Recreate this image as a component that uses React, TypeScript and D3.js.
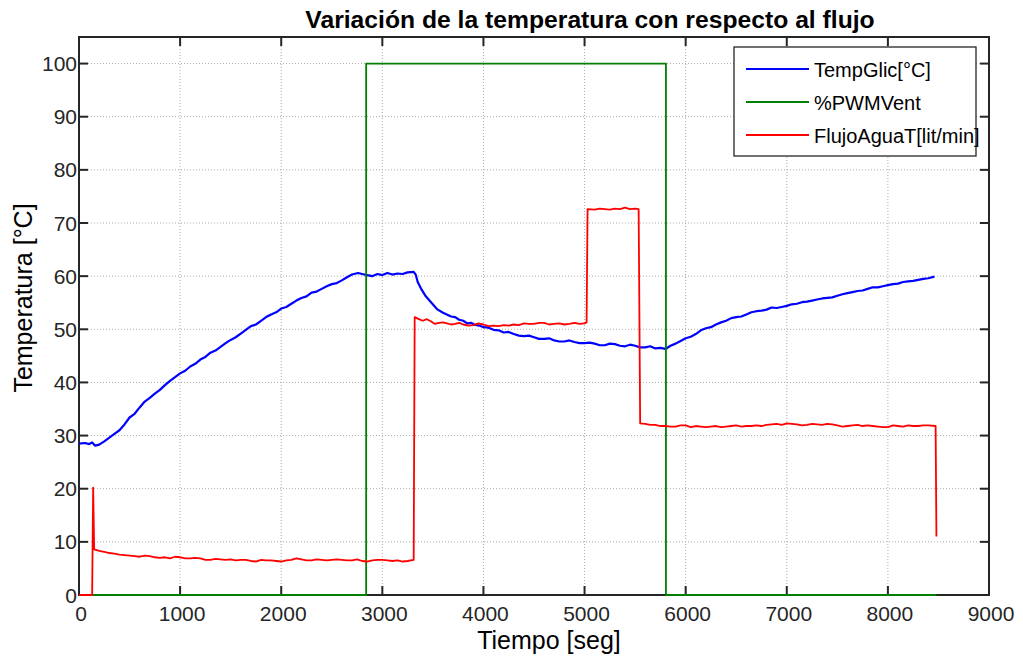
import React from "react";
import * as d3 from "d3";

const title = "Variación de la temperatura con respecto al flujo";
const xLabel = "Tiempo [seg]";
const yLabel = "Temperatura [°C]";
const xTicks = [0, 1000, 2000, 3000, 4000, 5000, 6000, 7000, 8000, 9000];
const yTicks = [0, 10, 20, 30, 40, 50, 60, 70, 80, 90, 100];
const seriesNames = ["TempGlic[°C]", "%PWMVent", "FlujoAguaT[lit/min]"];
const seriesColors = ["#0000ff", "#007f00", "#ff0000"];

const tempGlic: [number, number][] = [
  [0, 28.5], [60, 28.6], [100, 28.4], [130, 28.7], [160, 28.1], [200, 28.3], [250, 28.9],
  [300, 29.6], [350, 30.3], [400, 31.0], [450, 32.1], [500, 33.4], [550, 34.1], [600, 35.3],
  [650, 36.4], [700, 37.1], [750, 37.9], [800, 38.6], [850, 39.5], [900, 40.3], [950, 41.0],
  [1000, 41.7], [1050, 42.2], [1100, 43.0], [1150, 43.5], [1200, 44.3], [1250, 44.8],
  [1300, 45.6], [1350, 46.0], [1400, 46.7], [1450, 47.4], [1500, 48.0], [1550, 48.5],
  [1600, 49.2], [1650, 49.9], [1700, 50.6], [1750, 50.9], [1800, 51.6], [1850, 52.3],
  [1900, 52.8], [1950, 53.2], [2000, 53.9], [2050, 54.2], [2100, 54.8], [2150, 55.4],
  [2200, 55.9], [2250, 56.2], [2300, 56.9], [2350, 57.1], [2400, 57.6], [2450, 58.1],
  [2500, 58.5], [2550, 58.7], [2600, 59.2], [2650, 59.8], [2700, 60.3], [2760, 60.6],
  [2800, 60.4], [2850, 60.2], [2900, 60.0], [2950, 60.4], [3000, 60.2], [3050, 60.6],
  [3100, 60.3], [3150, 60.5], [3200, 60.4], [3250, 60.7], [3310, 60.8], [3330, 60.3],
  [3350, 58.9], [3390, 57.4], [3430, 56.2], [3490, 54.9], [3540, 53.8], [3600, 53.1],
  [3680, 52.4], [3720, 52.3], [3760, 51.8], [3800, 51.6], [3840, 51.1], [3880, 51.2],
  [3920, 50.8], [3960, 50.7], [4000, 50.4], [4050, 50.3], [4100, 49.9], [4150, 49.8],
  [4200, 49.4], [4250, 49.5], [4300, 49.1], [4350, 48.8], [4400, 48.7], [4450, 48.8],
  [4500, 48.5], [4550, 48.2], [4600, 48.2], [4650, 48.3], [4700, 47.9], [4750, 47.7],
  [4800, 47.7], [4850, 47.9], [4900, 47.6], [4950, 47.4], [5000, 47.4], [5050, 47.5],
  [5100, 47.3], [5150, 47.0], [5200, 47.0], [5250, 47.3], [5300, 47.2], [5350, 46.9],
  [5400, 46.8], [5450, 47.1], [5500, 46.9], [5550, 46.6], [5600, 46.6], [5650, 46.8],
  [5700, 46.4], [5750, 46.5], [5800, 46.3], [5850, 46.9], [5900, 47.3], [5950, 47.8],
  [6000, 48.3], [6050, 48.6], [6100, 49.1], [6150, 49.8], [6200, 50.2], [6250, 50.4],
  [6300, 50.9], [6350, 51.3], [6400, 51.6], [6450, 52.1], [6500, 52.3], [6550, 52.4],
  [6600, 52.8], [6650, 53.2], [6700, 53.4], [6750, 53.5], [6800, 53.7], [6850, 54.1],
  [6900, 54.0], [6950, 54.2], [7000, 54.4], [7050, 54.7], [7100, 54.8], [7150, 55.1],
  [7200, 55.2], [7250, 55.4], [7300, 55.6], [7350, 55.8], [7400, 55.9], [7450, 56.0],
  [7500, 56.3], [7550, 56.6], [7600, 56.8], [7650, 57.0], [7700, 57.2], [7750, 57.3],
  [7800, 57.6], [7850, 57.9], [7900, 57.9], [7950, 58.1], [8000, 58.3], [8050, 58.5],
  [8100, 58.6], [8150, 58.9], [8200, 59.0], [8250, 59.1], [8300, 59.3], [8350, 59.5],
  [8400, 59.6], [8460, 59.9],
];

const pwmVent: [number, number][] = [
  [0, 0], [2840, 0], [2840, 100], [5805, 100], [5805, 0], [8480, 0],
];

const flujoAgua: [number, number][] = [
  [0, 0], [130, 0], [140, 20.2], [150, 8.6], [200, 8.3], [250, 8.1], [300, 7.9], [350, 7.8],
  [400, 7.6], [450, 7.5], [500, 7.4], [550, 7.3], [600, 7.2], [650, 7.4], [700, 7.3],
  [750, 7.1], [800, 7.0], [850, 7.1], [900, 6.9], [950, 7.2], [1000, 7.1], [1050, 6.9],
  [1100, 6.9], [1150, 7.0], [1200, 6.9], [1250, 6.6], [1300, 6.6], [1350, 6.8], [1400, 6.7],
  [1450, 6.6], [1500, 6.7], [1550, 6.5], [1600, 6.6], [1650, 6.6], [1700, 6.4], [1750, 6.3],
  [1800, 6.6], [1850, 6.5], [1900, 6.5], [1950, 6.4], [2000, 6.3], [2050, 6.5], [2100, 6.6],
  [2150, 6.9], [2200, 6.7], [2250, 6.5], [2300, 6.5], [2350, 6.7], [2400, 6.6], [2450, 6.5],
  [2500, 6.6], [2550, 6.7], [2600, 6.6], [2650, 6.5], [2700, 6.5], [2750, 6.7], [2800, 6.4],
  [2850, 6.3], [2900, 6.5], [2950, 6.6], [3000, 6.6], [3050, 6.5], [3100, 6.4], [3150, 6.5],
  [3200, 6.3], [3250, 6.4], [3310, 6.6],
  [3320, 52.3], [3350, 52.0], [3400, 51.6], [3440, 51.9], [3480, 51.5], [3520, 51.0],
  [3560, 51.2], [3600, 51.3], [3640, 51.1], [3680, 50.9], [3720, 51.0], [3760, 51.2],
  [3800, 50.9], [3850, 50.7], [3900, 50.8], [3950, 51.1], [4000, 50.9], [4050, 50.6],
  [4100, 50.7], [4150, 50.6], [4200, 50.8], [4250, 50.7], [4300, 50.9], [4350, 50.8],
  [4400, 51.1], [4450, 51.0], [4500, 51.0], [4550, 51.2], [4600, 51.2], [4650, 50.9],
  [4700, 51.0], [4750, 51.1], [4800, 50.9], [4850, 51.0], [4900, 51.2], [4950, 51.0],
  [5000, 51.1], [5020, 51.3], [5030, 72.6], [5100, 72.5], [5150, 72.7], [5200, 72.6],
  [5250, 72.5], [5300, 72.7], [5350, 72.6], [5400, 72.9], [5450, 72.6], [5500, 72.7],
  [5535, 72.6], [5550, 32.3], [5600, 32.2], [5650, 32.0], [5700, 32.0], [5750, 31.8],
  [5800, 31.8], [5850, 31.7], [5900, 31.7], [5950, 31.9], [6000, 31.9], [6050, 31.6],
  [6100, 31.8], [6150, 31.7], [6200, 31.6], [6250, 31.7], [6300, 31.8], [6350, 31.6],
  [6400, 31.7], [6450, 31.8], [6500, 31.9], [6550, 31.7], [6600, 31.8], [6650, 31.8],
  [6700, 31.9], [6750, 31.8], [6800, 32.0], [6850, 32.1], [6900, 32.2], [6950, 32.0],
  [7000, 32.3], [7050, 32.2], [7100, 32.1], [7150, 31.9], [7200, 32.0], [7250, 32.2],
  [7300, 32.1], [7350, 32.0], [7400, 32.2], [7450, 32.1], [7500, 31.9], [7550, 31.7],
  [7600, 31.8], [7650, 31.9], [7700, 32.0], [7750, 31.8], [7800, 31.9], [7850, 31.8],
  [7900, 31.7], [7950, 31.6], [8000, 31.6], [8050, 31.9], [8100, 31.8], [8150, 31.7],
  [8200, 31.9], [8250, 31.8], [8300, 31.8], [8350, 31.9], [8400, 31.9], [8472, 31.8],
  [8480, 11.0],
];

const allSeries = [tempGlic, pwmVent, flujoAgua];

const W = 1023;
const H = 656;
const m = { left: 79, right: 989, top: 37, bottom: 595 };
const font = "'Liberation Sans', Arial, Helvetica, sans-serif";
const axisColor = "#262626";

export default function App() {
  const x = d3.scaleLinear().domain([0, 9000]).range([m.left, m.right]);
  const y = d3.scaleLinear().domain([0, 105]).range([m.bottom, m.top]);
  const line = d3
    .line<[number, number]>()
    .x((d) => x(d[0]))
    .y((d) => y(d[1]));
  const tickLen = 9;

  return (
    <svg
      width={W}
      height={H}
      style={{ position: "absolute", left: 0, top: 0, background: "#fff" }}
      fontFamily={font}
    >
      <rect x={0} y={0} width={W} height={H} fill="#fff" />
      {/* grid */}
      {xTicks.slice(1, -1).map((t) => (
        <line key={"gx" + t} x1={x(t)} x2={x(t)} y1={m.top} y2={m.bottom}
          stroke="#aaaaaa" strokeWidth={1} strokeDasharray="1 2" />
      ))}
      {yTicks.slice(1).map((t) => (
        <line key={"gy" + t} x1={m.left} x2={m.right} y1={y(t)} y2={y(t)}
          stroke="#aaaaaa" strokeWidth={1} strokeDasharray="1 2" />
      ))}
      {/* box */}
      <rect x={m.left} y={m.top} width={m.right - m.left} height={m.bottom - m.top}
        fill="none" stroke={axisColor} strokeWidth={2} />
      {/* ticks */}
      {xTicks.map((t) => (
        <g key={"tx" + t}>
          <line x1={x(t)} x2={x(t)} y1={m.bottom} y2={m.bottom - tickLen} stroke={axisColor} strokeWidth={2} />
          <line x1={x(t)} x2={x(t)} y1={m.top} y2={m.top + tickLen} stroke={axisColor} strokeWidth={2} />
          <text x={x(t) + 2} y={m.bottom + 26} textAnchor="middle" fontSize={21} fill={axisColor}>{t}</text>
        </g>
      ))}
      {yTicks.map((t) => (
        <g key={"ty" + t}>
          <line x1={m.left} x2={m.left + tickLen} y1={y(t)} y2={y(t)} stroke={axisColor} strokeWidth={2} />
          <line x1={m.right} x2={m.right - tickLen} y1={y(t)} y2={y(t)} stroke={axisColor} strokeWidth={2} />
          <text x={m.left - 2} y={y(t) + 7.5} textAnchor="end" fontSize={21} fill={axisColor}>{t}</text>
        </g>
      ))}
      {/* series */}
      <defs>
        <clipPath id="clip">
          <rect x={m.left} y={m.top - 2} width={m.right - m.left} height={m.bottom - m.top + 4} />
        </clipPath>
      </defs>
      <g clipPath="url(#clip)">
        {allSeries.map((s, i) => (
          <path key={i} d={line(s) || ""} fill="none" stroke={seriesColors[i]}
            strokeWidth={i === 0 ? 2.2 : 1.8} strokeLinejoin="round" />
        ))}
      </g>
      {/* labels */}
      <text x={590} y={28} textAnchor="middle" fontSize={24.7} fontWeight="bold" fill="#000">{title}</text>
      <text x={549} y={649} textAnchor="middle" fontSize={25} fill="#000">{xLabel}</text>
      <text transform={`translate(32, 298) rotate(-90)`} textAnchor="middle" fontSize={25} fill="#000">{yLabel}</text>
      {/* legend */}
      <g>
        <rect x={734} y={47} width={242} height={109} fill="#fff" stroke={axisColor} strokeWidth={1.3} />
        {seriesNames.map((n, i) => {
          const ly = 69 + i * 33;
          return (
            <g key={n}>
              <line x1={746} x2={809} y1={ly} y2={ly} stroke={seriesColors[i]} strokeWidth={2} />
              <text x={814} y={ly + 7.5} fontSize={20} fill="#000">{n}</text>
            </g>
          );
        })}
      </g>
    </svg>
  );
}
